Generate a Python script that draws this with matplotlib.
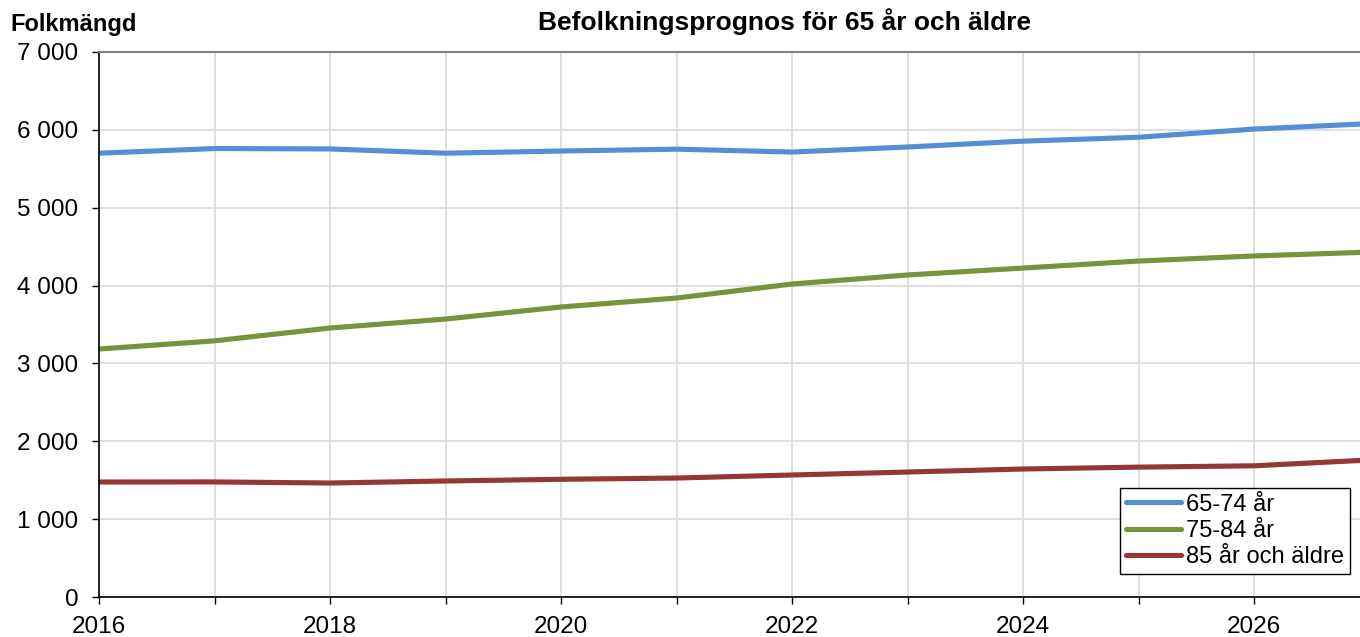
import matplotlib
matplotlib.use("Agg")
import matplotlib.pyplot as plt
from matplotlib.ticker import FuncFormatter, MultipleLocator

plt.rcParams['font.family'] = ['Liberation Sans', 'DejaVu Sans']

years = [2016, 2017, 2018, 2019, 2020, 2021, 2022, 2023, 2024, 2025, 2026, 2027]
age_65_74 = [5700, 5760, 5755, 5700, 5728, 5752, 5715, 5780, 5855, 5905, 6010, 6080]
age_75_84 = [3185, 3290, 3455, 3570, 3725, 3840, 4020, 4136, 4225, 4315, 4380, 4430]
age_85 = [1477, 1478, 1464, 1490, 1512, 1528, 1567, 1605, 1644, 1668, 1685, 1760]
series_names = ['65-74 år', '75-84 år', '85 år och äldre']
colors = ['#558ED5', '#77933C', '#953735']

fig = plt.figure(figsize=(13.6, 6.37), dpi=100)
ax = fig.add_axes([99/1360, 1 - 597/637, 1 - 99/1360, (597 - 52)/637])

for vals, name, c in zip([age_65_74, age_75_84, age_85], series_names, colors):
    ax.plot(years, vals, color=c, lw=3.7, label=name, solid_joinstyle='round', solid_capstyle='round')

ax.set_xlim(2016, 2016 + (1360 - 99) / 115.5)
ax.set_ylim(0, 7000)
ax.xaxis.set_major_locator(MultipleLocator(1))
ax.yaxis.set_major_locator(MultipleLocator(1000))
ax.xaxis.set_major_formatter(FuncFormatter(lambda v, p: f"{int(round(v))}" if int(round(v)) % 2 == 0 else ""))
ax.yaxis.set_major_formatter(FuncFormatter(lambda v, p: f"{int(v):,}".replace(",", " ")))
ax.grid(True, color='#d9d9d9', lw=1.2)
ax.set_axisbelow(True)
ax.tick_params(axis='both', direction='out', length=5, width=1, labelsize=17.5, colors='black')
ax.tick_params(axis='x', pad=9)
ax.tick_params(axis='y', pad=10)
ax.spines['right'].set_visible(False)
ax.spines['top'].set_color('#808080')
ax.spines['top'].set_linewidth(1.5)
ax.spines['left'].set_color('black')
ax.spines['left'].set_linewidth(1.2)
ax.spines['bottom'].set_color('black')
ax.spines['bottom'].set_linewidth(1.2)

fig.text(785/1360, 1 - 22/637, 'Befolkningsprognos för 65 år och äldre', ha='center', va='center',
         fontsize=19, fontweight='bold')
fig.text(10/1360, 1 - 25/637, 'Folkmängd', ha='left', va='center', fontsize=17, fontweight='bold')

leg = ax.legend(loc='lower right', bbox_to_anchor=(1350/1360, 1 - 574/637), bbox_transform=fig.transFigure,
                fontsize=17, frameon=True, fancybox=False, edgecolor='black', framealpha=1,
                handlelength=2.35, handletextpad=0.2, borderpad=0.25, labelspacing=0.18, borderaxespad=0)
leg.get_frame().set_linewidth(1.0)

fig.savefig('out.png', dpi=100)
